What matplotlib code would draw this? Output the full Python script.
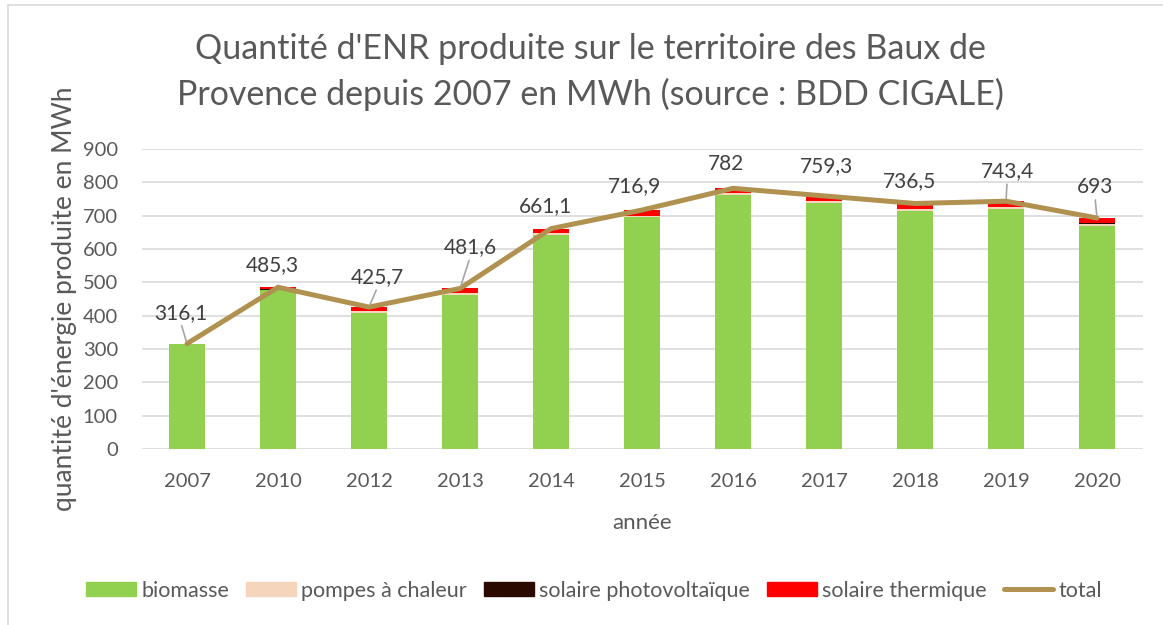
import matplotlib.pyplot as plt
import matplotlib.patches as mpatches
from matplotlib.lines import Line2D
import numpy as np

plt.rcParams['font.family'] = ['Lato', 'DejaVu Sans']

annees = ['2007', '2010', '2012', '2013', '2014', '2015', '2016', '2017', '2018', '2019', '2020']
biomasse = [313.9, 476.0, 409.0, 463.0, 643.0, 695.0, 762.0, 738.0, 713.0, 720.0, 670.0]
pompes = [0.4, 2.2, 3.6, 3.8, 4.2, 4.4, 5.0, 5.2, 5.8, 5.8, 5.9]
photovolt = [0.2, 0.4, 0.7, 0.9, 1.0, 1.1, 1.2, 1.2, 1.3, 1.3, 1.3]
thermique = [1.6, 6.7, 12.4, 13.9, 12.9, 16.4, 13.8, 14.9, 16.4, 16.3, 15.8]
total = [316.1, 485.3, 425.7, 481.6, 661.1, 716.9, 782.0, 759.3, 736.5, 743.4, 693.0]

# label offsets in pixels (dx, dy) and whether a leader line is drawn
lab_off = [(-6, 31), (-6, 22), (8, 30), (10, 41), (-6, 23), (-8, 24),
           (-7, 24), (2, 30), (-6, 22), (1, 30), (-2, 31)]
leader = [True, False, True, True, False, False, False, False, False, True, True]

c_bio = '#92d050'
c_pac = '#f6d5bd'
c_pv = '#2a0a00'
c_th = '#ff0000'
c_tot = '#b09150'
txt = '#595959'

fig = plt.figure(figsize=(11.63, 6.25), dpi=100)
ax = fig.add_axes([0.1217, 0.2816, 0.8607, 0.48])

x = np.arange(len(annees))
w = 0.40
bottom = np.zeros(len(x))
for vals, col in [(biomasse, c_bio), (pompes, c_pac), (photovolt, c_pv), (thermique, c_th)]:
    ax.bar(x, vals, w, bottom=bottom, color=col, zorder=2)
    bottom += np.array(vals)

ax.plot(x, total, color=c_tot, lw=3.6, zorder=3, solid_capstyle='round')

for i, v in enumerate(total):
    s = f'{v:.1f}'.replace('.', ',')
    if s.endswith(',0'):
        s = s[:-2]
    dx, dy = lab_off[i]
    ax.annotate(s, (x[i], v), xytext=(dx, dy), textcoords='offset pixels',
                ha='center', va='center', fontsize=15, color='#404040', zorder=4)
    if leader[i]:
        ax.annotate('', (x[i], v), xytext=(dx * 0.9, dy - 13), textcoords='offset pixels',
                    arrowprops=dict(arrowstyle='-', color='#a6a6a6', lw=1.2,
                                    shrinkA=0, shrinkB=2), zorder=4)

ax.set_xlim(-0.5, len(x) - 0.5)
ax.set_ylim(0, 900)
ax.set_yticks(range(0, 901, 100))
ax.set_xticks(x)
ax.set_xticklabels(annees)
ax.yaxis.grid(True, color='#d9d9d9', lw=1.2, zorder=0)
ax.set_axisbelow(True)
for sp in ax.spines.values():
    sp.set_visible(False)
ax.tick_params(axis='both', length=0, labelsize=14.5, colors=txt)
ax.tick_params(axis='y', pad=17)
ax.tick_params(axis='x', pad=17)

ax.set_xlabel('année', fontsize=16, color=txt, labelpad=17)
ax.set_ylabel("quantité d'énergie produite en MWh", fontsize=19, color=txt, labelpad=4)

fig.text(0.508, 0.885, "Quantité d'ENR produite sur le territoire des Baux de\nProvence depuis 2007 en MWh (source : BDD CIGALE)",
         ha='center', va='center', fontsize=24.5, color=txt, linespacing=1.45)

handles = [mpatches.Patch(color=c_bio), mpatches.Patch(color=c_pac),
           mpatches.Patch(color=c_pv), mpatches.Patch(color=c_th),
           Line2D([], [], color=c_tot, lw=3.6, solid_capstyle='round')]
labels = ['biomasse', 'pompes à chaleur', 'solaire photovoltaïque', 'solaire thermique', 'total']
leg = fig.legend(handles, labels, loc='center', bbox_to_anchor=(0.511, 0.055), ncol=5,
                 frameon=False, fontsize=15.5, handlelength=2.3, handleheight=0.65,
                 columnspacing=0.8, handletextpad=0.25)
for t in leg.get_texts():
    t.set_color(txt)

# chart frame
fig.add_artist(mpatches.Rectangle((8 / 1163, -0.1), 1.2, 1 - 5 / 625 + 0.1,
                                  transform=fig.transFigure, fill=False,
                                  edgecolor='#d9d9d9', lw=1.2))

fig.savefig('out.png', dpi=100)
